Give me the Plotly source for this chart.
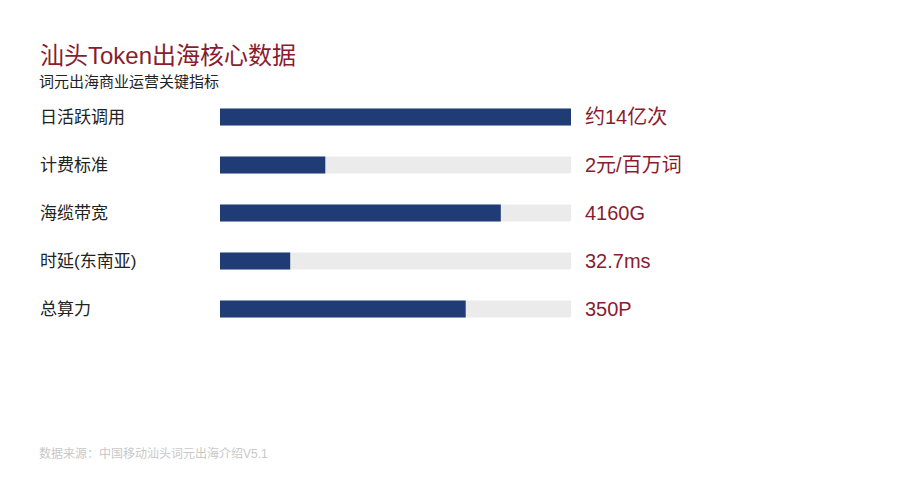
import plotly.graph_objects as go

# 指标数据
labels = ["日活跃调用", "计费标准", "海缆带宽", "时延(东南亚)", "总算力"]
fill_pct = [100, 30, 80, 20, 70]
value_text = ["约14亿次", "2元/百万词", "4160G", "32.7ms", "350P"]
track_max = [100] * len(labels)

navy = "#1F3C74"
track = "#EBEBEB"
red = "#8B1C2E"
font_name = "Liberation Sans, Noto Sans CJK SC, sans-serif"

# page has an 8px body margin, so everything is placed 8px up/left
off = 8
plot_l, plot_r, plot_t, plot_b = 220 - off, 571 - off, 93 - off, 333 - off
plot_w, plot_h = plot_r - plot_l, plot_b - plot_t

fig = go.Figure()

# 灰色底条
fig.add_trace(go.Bar(
    x=track_max, y=labels, orientation="h",
    marker=dict(color=track, line=dict(width=0)),
    width=0.354, hoverinfo="skip", showlegend=False,
))

# 实际填充
fig.add_trace(go.Bar(
    x=fill_pct, y=labels, orientation="h",
    marker=dict(color=navy, line=dict(width=0)),
    width=0.354, showlegend=False,
))

annotations = []
for lab, txt in zip(labels, value_text):
    annotations.append(dict(
        x=0, xref="paper", y=lab, yref="y", xshift=-182,
        text=lab, showarrow=False, xanchor="left", yanchor="middle",
        font=dict(family=font_name, size=17, color="#222222"),
    ))
    annotations.append(dict(
        x=100, xref="x", y=lab, yref="y", xshift=12,
        text=txt, showarrow=False, xanchor="left", yanchor="middle",
        font=dict(family=font_name, size=20, color=red),
    ))

def px_to_paper(px, py):
    return (px - off - plot_l) / plot_w, 1 - (py - off - plot_t) / plot_h

# 副标题 (annotation text has ~3px inner padding)
sx, sy = px_to_paper(37, 82)
annotations.append(dict(
    x=sx, xref="paper", y=sy, yref="paper",
    text="词元出海商业运营关键指标", showarrow=False,
    xanchor="left", yanchor="middle",
    font=dict(family=font_name, size=15, color="#222222"),
))
# 数据来源
fx, fy = px_to_paper(37, 453)
annotations.append(dict(
    x=fx, xref="paper", y=fy, yref="paper",
    text="数据来源：中国移动汕头词元出海介绍V5.1", showarrow=False,
    xanchor="left", yanchor="middle",
    font=dict(family=font_name, size=12, color="#C8C8C8"),
))

fig.update_layout(
    width=900, height=500,
    paper_bgcolor="white", plot_bgcolor="white",
    barmode="overlay",
    margin=dict(l=plot_l, r=900 - plot_r, t=plot_t, b=500 - plot_b),
    title=dict(
        text="汕头Token出海核心数据",
        xref="container", yref="container",
        x=(40 - off) / 900, y=1 - (56 - off) / 500,
        xanchor="left", yanchor="middle",
        font=dict(family=font_name, size=24, color=red),
    ),
    xaxis=dict(range=[0, 100], visible=False, fixedrange=True),
    yaxis=dict(range=[4.5, -0.5], visible=False, fixedrange=True),
    annotations=annotations,
)

fig.write_html("out.html")
